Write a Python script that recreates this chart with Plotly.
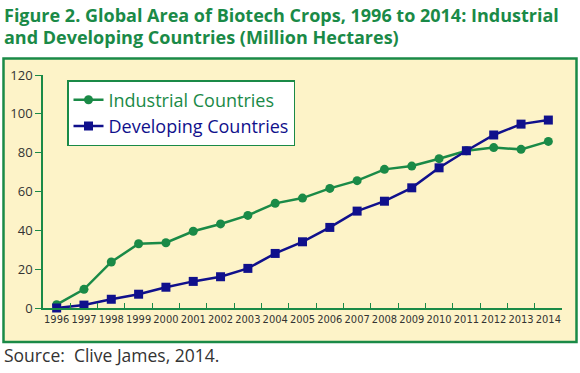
import plotly.graph_objects as go

years = [str(y) for y in range(1996, 2015)]
industrial = [1.7, 9.6, 23.7, 33.1, 33.6, 39.5, 43.3, 47.7, 53.9, 56.6, 61.6, 65.6, 71.4, 73.1, 76.9, 81.0, 82.6, 81.7, 85.8]
developing = [0.0, 1.5, 4.5, 7.1, 10.7, 13.7, 16.1, 20.4, 28.1, 34.1, 41.5, 49.9, 55.0, 61.9, 72.2, 81.0, 89.1, 94.7, 96.8]
title_lines = ["Figure 2. Global Area of Biotech Crops, 1996 to 2014: Industrial",
               "and Developing Countries (Million Hectares)"]
source_text = "Source:  Clive James, 2014."

GREEN = "#1A8A47"
NAVY = "#10108C"
CREAM = "#FDF3C8"

W, H = 580, 373
L, R, T, B = 43, 562, 75, 308  # plot area px

def px_x(p):
    return (p - L) / (R - L)

def px_y(p):
    return (B - p) / (B - T)

fig = go.Figure()
fig.add_trace(go.Scatter(
    x=years, y=industrial, mode="lines+markers",
    name=f"<span style='color:{GREEN}'>Industrial Countries</span>",
    line=dict(color=GREEN, width=2.5),
    marker=dict(symbol="circle", size=9, color=GREEN),
    cliponaxis=False,
))
fig.add_trace(go.Scatter(
    x=years, y=developing, mode="lines+markers",
    name=f"<span style='color:{NAVY}'>Developing Countries</span>",
    line=dict(color=NAVY, width=2.5),
    marker=dict(symbol="square", size=9, color=NAVY),
    cliponaxis=False,
))

fig.add_shape(type="rect", xref="paper", yref="paper",
              x0=px_x(3.5), x1=px_x(576.5), y0=px_y(342), y1=px_y(58.5),
              fillcolor=CREAM, line=dict(color=GREEN, width=2.5), layer="below")

annotations = []
for i, line in enumerate(title_lines):
    annotations.append(dict(
        text=f"<b>{line}</b>", xref="paper", yref="paper",
        x=px_x(2), y=px_y(15 + 22 * i), xanchor="left", yanchor="middle",
        showarrow=False, font=dict(family="Open Sans", size=18, color=GREEN),
    ))
annotations.append(dict(
    text=source_text,
    xref="paper", yref="paper", x=px_x(2), y=px_y(355),
    xanchor="left", yanchor="middle", showarrow=False,
    font=dict(family="Open Sans", size=17.5, color="#333333"),
))

fig.update_layout(
    width=W, height=H,
    margin=dict(l=L, r=W - R, t=T, b=H - B, autoexpand=False),
    paper_bgcolor="white",
    plot_bgcolor="rgba(0,0,0,0)",
    font=dict(family="Open Sans", color="#333333"),
    showlegend=True,
    legend=dict(
        x=px_x(67), y=px_y(80), xanchor="left", yanchor="top",
        bgcolor="white", bordercolor=GREEN, borderwidth=1.5,
        font=dict(family="Open Sans", size=18),
        itemwidth=30, tracegroupgap=0,
    ),
    xaxis=dict(
        type="category", range=[-0.5, 18.5], tickson="boundaries",
        ticks="inside", ticklen=5, tickcolor=GREEN, tickwidth=1,
        showline=True, linecolor=GREEN, linewidth=1.5,
        showgrid=False, zeroline=False, tickangle=0, automargin=False,
        tickfont=dict(family="Liberation Sans Narrow, DejaVu Sans Condensed, Roboto", size=11, color="#333333"),
    ),
    yaxis=dict(
        range=[0, 120], tickvals=[0, 20, 40, 60, 80, 100, 120],
        ticks="outside", ticklen=6, tickcolor=GREEN, tickwidth=1,
        showline=True, linecolor=GREEN, linewidth=1.5, automargin=False,
        showgrid=False, zeroline=False,
        tickfont=dict(family="Open Sans", size=13, color="#333333"),
    ),
    annotations=annotations,
)

fig.write_html("out.html", config={"displayModeBar": False},
               post_script="document.body.style.margin='0';")
